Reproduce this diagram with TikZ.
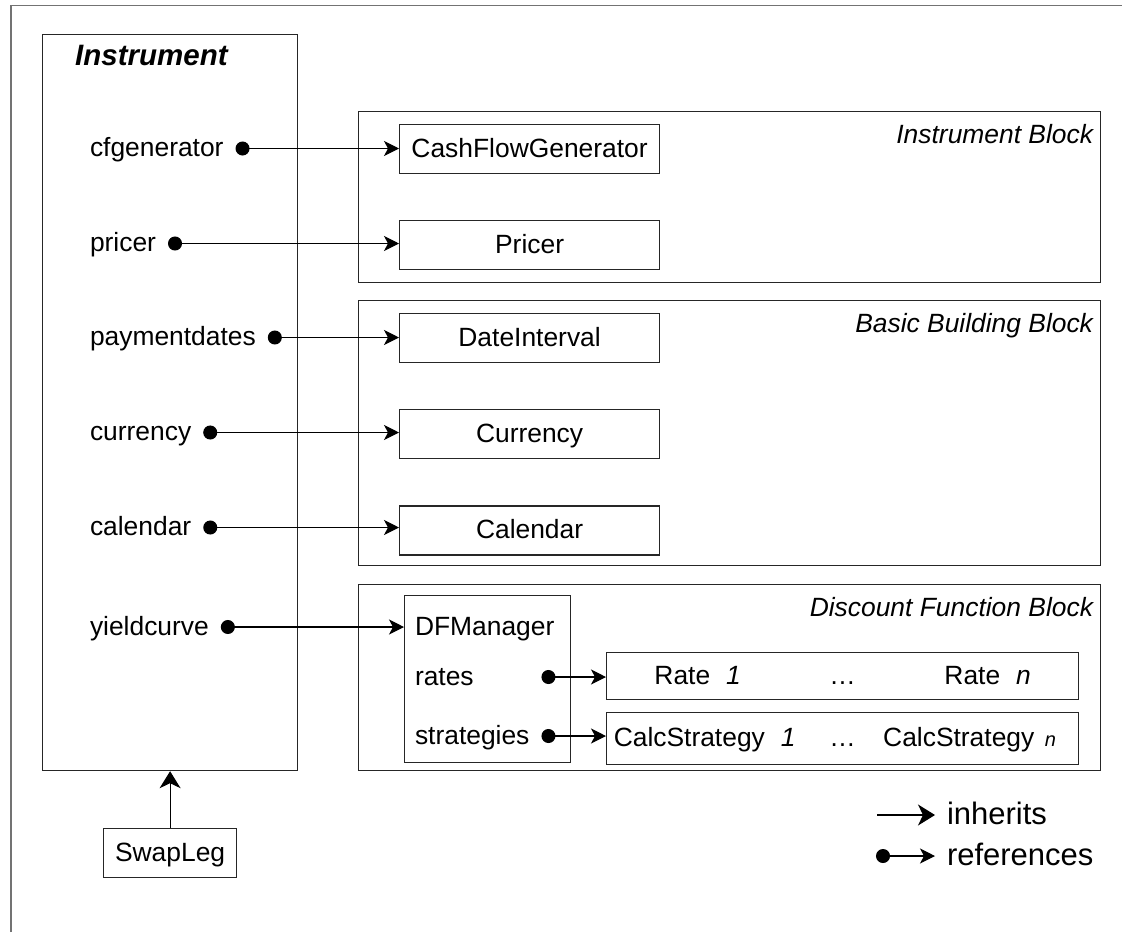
\documentclass[tikz,border=0pt]{standalone}
\usepackage{fontspec}
\setmainfont{Liberation Sans}
\usetikzlibrary{positioning,arrows.meta}
\newcommand{\ridx}[1]{\hspace{0.6em}\textit{#1}}
\tikzset{
  every node/.style={font=\fontsize{26.4}{31}\selectfont, inner sep=0pt},
  frame/.style={black!55, line width=1.5pt},
  txt/.style={text height=21pt, text depth=5pt},
  blk/.style={draw=black!85, line width=1.2pt, anchor=north west, minimum width=742pt},
  cls/.style={txt, draw=black!85, line width=1.2pt, minimum width=260pt, minimum height=49pt},
  attr/.style={txt, anchor=west, outer xsep=12pt},
  blklabel/.style={anchor=base east, font=\itshape\fontsize{26.4}{31}\selectfont},
  legend/.style={anchor=west, outer xsep=12pt, font=\fontsize{31}{37}\selectfont, text height=25pt, text depth=6pt},
  ref/.style={line width=1.1pt, {Circle[length=14pt]}-{Stealth[length=15pt,width=15pt,inset=4pt]}},
  inh/.style={line width=1.1pt, -{Stealth[length=17pt,width=21pt,inset=5pt]}}
}
\begin{document}
\begin{tikzpicture}[x=1pt,y=-1pt]
  \useasboundingbox (0,0) rectangle (1122,932);
  \draw[frame] (11,932) -- (11,5.5) -- (1122,5.5);

  \node (inst) [blk, minimum width=255pt, minimum height=736pt] at (42,34) {};
  \node (insttitle) [anchor=base west, font=\bfseries\itshape\fontsize{29.5}{35}\selectfont] at (75,65) {Instrument};

  \node (ib) [blk, minimum height=171pt] at (358,111) {};
  \node (bb) [blk, minimum height=265pt] at (358,300) {};
  \node (dfb) [blk, minimum height=186pt] at (358,584) {};
  \node (ibl) [blklabel] at ([xshift=-8pt,yshift=-32pt]ib.north east) {Instrument Block};
  \node (bbl) [blklabel] at ([xshift=-8pt,yshift=-32pt]bb.north east) {Basic Building Block};
  \node (dfbl) [blklabel] at ([xshift=-8pt,yshift=-32pt]dfb.north east) {Discount Function Block};

  \node (cfg) [cls, anchor=north west] at (399,124) {CashFlowGenerator};
  \node (pricer) [cls, below=46pt of cfg] {Pricer};
  \node (dint) [cls, anchor=north west] at (399,313) {DateInterval};
  \node (ccy) [cls, below=46pt of dint] {Currency};
  \node (cal) [cls, below=46pt of ccy] {Calendar};

  \node (dfm) [blk, minimum width=166pt, minimum height=167pt] at (404,595) {};
  \node (dfmt) [attr] at (403,627) {DFManager};
  \node (rates) [attr] at (403,677) {rates};
  \node (strat) [attr] at (403,736) {strategies};

  \node (rate) [cls, anchor=north west, minimum width=472pt, minimum height=47pt] at (606,652) {};
  \node (cs) [cls, below=12pt of rate, minimum width=472pt, minimum height=52pt] {};
  \node (rate1) [txt] at ([xshift=-145pt]rate.center) {Rate\ridx{1}};
  \node (rdots) [txt] at (rate.center) {\dots};
  \node (raten) [txt] at ([xshift=145pt]rate.center) {Rate\ridx{n}};
  \node (cs1) [txt] at ([xshift=-138pt]cs.center) {CalcStrategy\ridx{1}};
  \node (csdots) [txt] at (cs.center) {\dots};
  \node (csn) [txt] at ([xshift=127pt]cs.center) {CalcStrategy\hspace{0.4em}{\itshape\fontsize{20}{24}\selectfont n}};

  \node (cf) [attr] at (78,148.5) {cfgenerator};
  \node (pr) [attr] at (78,243.5) {pricer};
  \node (pd) [attr] at (78,337.5) {paymentdates};
  \node (cu) [attr] at (78,432.5) {currency};
  \node (ca) [attr] at (78,527.5) {calendar};
  \node (yc) [attr] at (78,627) {yieldcurve};

  \draw[ref] (cf) -- (cf -| cfg.west);
  \draw[ref] (pr) -- (pr -| pricer.west);
  \draw[ref] (pd) -- (pd -| dint.west);
  \draw[ref] (cu) -- (cu -| ccy.west);
  \draw[ref] (ca) -- (ca -| cal.west);
  \draw[ref] (yc) -- (yc -| dfm.west);
  \draw[ref] (strat.east |- rates.east) -- (rates.east -| rate.west);
  \draw[ref] (strat) -- (strat -| cs.west);

  \node (swap) [cls, minimum width=133pt, below=57pt of inst] {SwapLeg};
  \draw[inh] (swap) -- (inst);

  \coordinate (inhs) at (877,815);
  \node (inht) [legend] at (935,815) {inherits};
  \draw[inh] (inhs) -- (inht);
  \coordinate (refs) at (876,856);
  \node (reft) [legend] at (935,856) {references};
  \draw[ref] (refs) -- (reft);
\end{tikzpicture}
\end{document}
